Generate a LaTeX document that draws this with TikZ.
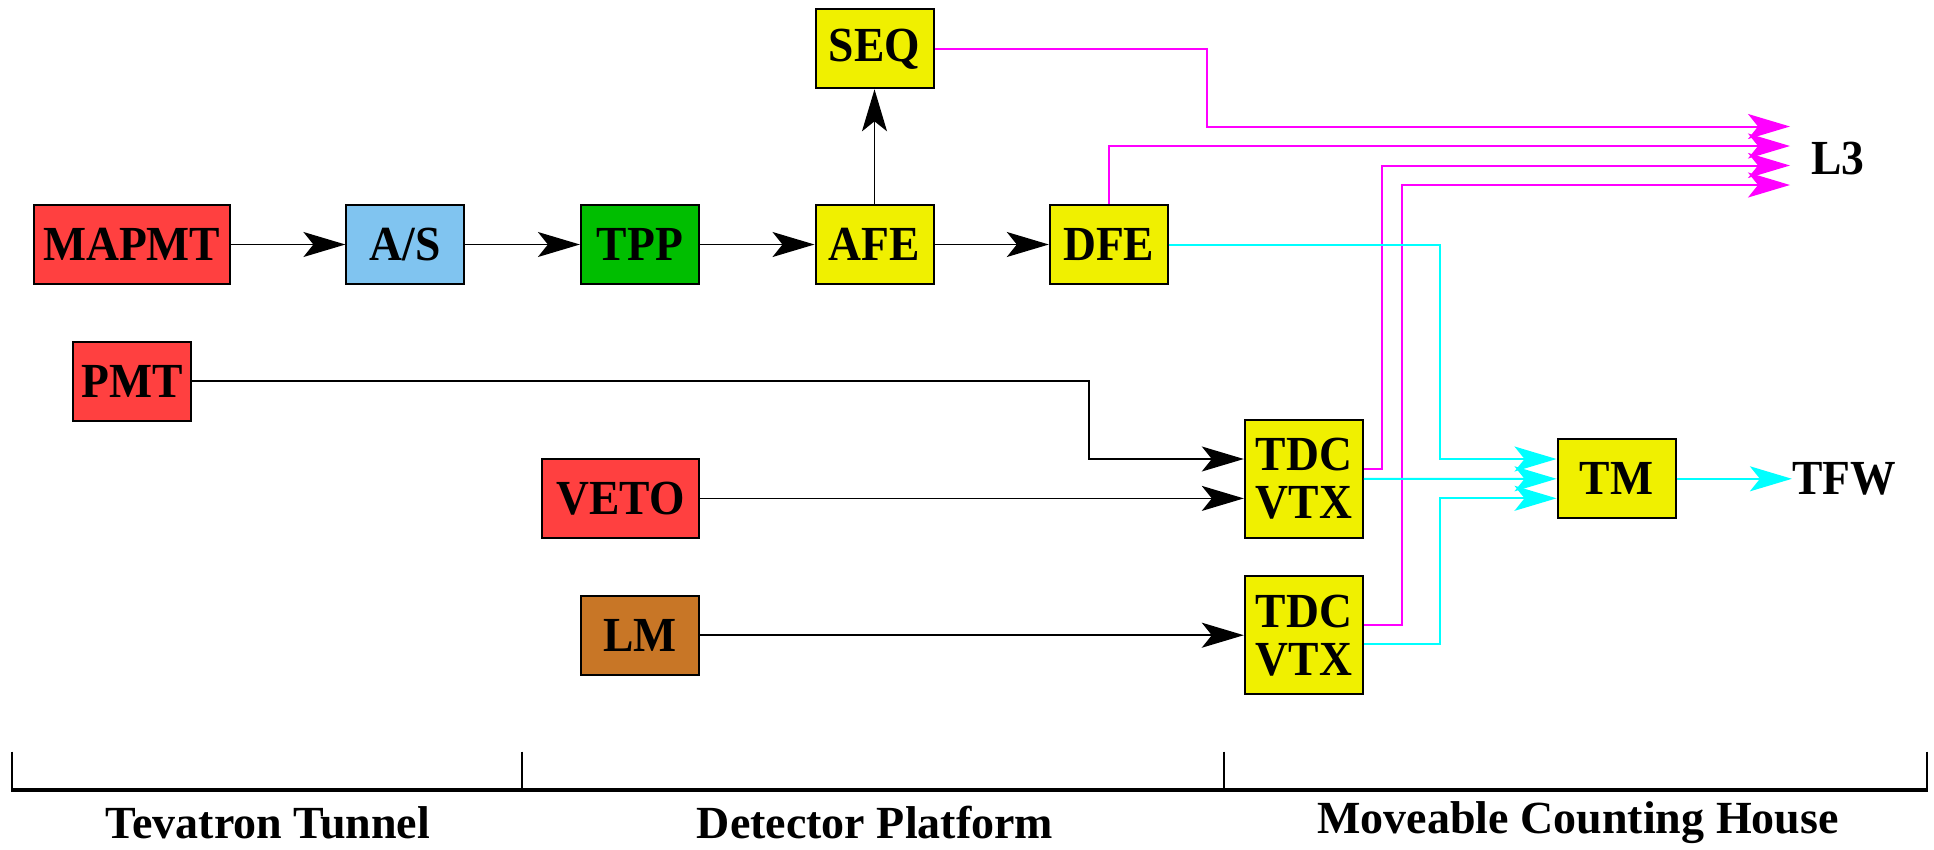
\documentclass[tikz,border=0pt]{standalone}
\usepackage{fontspec}
\setmainfont{Liberation Serif}
\newfontfamily\tallserif[FakeStretch=0.93]{Liberation Serif}
\usetikzlibrary{arrows.meta}
\definecolor{boxred}{RGB}{255,64,64}
\definecolor{boxblue}{RGB}{128,196,240}
\definecolor{boxgreen}{RGB}{0,190,0}
\definecolor{boxyellow}{RGB}{240,240,0}
\definecolor{boxbrown}{RGB}{200,118,38}
\definecolor{sigmag}{RGB}{255,0,255}
\definecolor{sigcyan}{RGB}{0,255,255}
\tikzset{
  blk/.style={draw=black, line width=2pt, minimum width=118pt, minimum height=79pt, inner sep=0pt,
     font=\tallserif\fontsize{49}{48}\selectfont\bfseries, align=center},
  lbl/.style={inner sep=0pt, font=\tallserif\fontsize{49}{48}\selectfont\bfseries},
  zonelbl/.style={inner sep=0pt, font=\fontsize{46}{48}\selectfont\bfseries},
  tip/.style={-{Stealth[length=42pt,width=25pt,inset=10pt]}},
  blackcon/.style={tip, draw=black, line width=1.6pt},
  magcon/.style={tip, draw=sigmag, line width=2pt},
  cyancon/.style={tip, draw=sigcyan, line width=2pt},
}
\begin{document}
\begin{tikzpicture}[x=1pt,y=-1pt]
\useasboundingbox (0,0) rectangle (1934,849);
% boxes
\node[blk, fill=boxred, minimum width=196pt] (mapmt) at (131.7,244.5) {MAPMT};
\node[blk, fill=boxblue] (as) at (405.4,244.5) {A/S};
\node[blk, fill=boxgreen] (tpp) at (639.9,244.5) {TPP};
\node[blk, fill=boxyellow] (afe) at (874.5,244.5) {AFE};
\node[blk, fill=boxyellow] (seq) at (874.5,48.8) {SEQ};
\node[blk, fill=boxyellow] (dfe) at (1108.8,244.5) {DFE};
\node[blk, fill=boxred] (pmt) at (132,381.2) {PMT};
\node[blk, fill=boxred, minimum width=157pt] (veto) at (620.4,498.4) {VETO};
\node[blk, fill=boxbrown] (lm) at (640,635.2) {LM};
\node[blk, fill=boxyellow, minimum height=118pt] (tdca) at (1303.8,478.9) {TDC\\VTX};
\node[blk, fill=boxyellow, minimum height=118pt] (tdcb) at (1303.8,635.3) {TDC\\VTX};
\node[blk, fill=boxyellow] (tm) at (1616.5,478.8) {TM};
\node[lbl] (l3) at (1838,159) {L3};
\node[lbl] (tfw) at (1844,478.8) {TFW};
% L3 arrow ends
\coordinate (l3a) at (1790,126.5);
\coordinate (l3b) at (1790,146);
\coordinate (l3c) at (1790,165.5);
\coordinate (l3d) at (1790,185);
% black connectors
\draw[blackcon] (mapmt.east) -- (as.west);
\draw[blackcon] (as.east) -- (tpp.west);
\draw[blackcon] (tpp.east) -- (afe.west);
\draw[blackcon] (afe.east) -- (dfe.west);
\draw[blackcon] (afe.north) -- (seq.south);
\draw[blackcon] (pmt.east) -- (1089,381.2) -- (1089,459) -- (tdca.west |- 0,459);
\draw[blackcon] (veto.east) -- (tdca.west |- veto.east);
\draw[blackcon] (lm.east) -- (tdcb.west |- lm.east);
% magenta connectors
\draw[magcon] (seq.east) -- (1206.6,48.8) -- (1206.6,126.5) -- (l3a);
\draw[magcon] (dfe.north) -- (1108.8,146) -- (l3b);
\draw[magcon] (tdca.east |- 0,469) -- (1382,469) -- (1382,165.5) -- (l3c);
\draw[magcon] (tdcb.east |- 0,625) -- (1401.6,625) -- (1401.6,185) -- (l3d);
% cyan connectors
\draw[cyancon] (dfe.east) -- (1440,244.5) -- (1440,459) -- (tm.west |- 0,459);
\draw[cyancon] (tdca.east) -- (tm.west);
\draw[cyancon] (tdcb.east |- 0,644.3) -- (1440,644.3) -- (1440,498.3) -- (tm.west |- 0,498.3);
\draw[cyancon] (tm.east) -- (tfw.west);
% location scale
\draw[line width=3.5pt] (12.3,790) -- (1927,790);
\draw[line width=2pt] (12.3,751.7) -- (12.3,791.7);
\draw[line width=2pt] (521.6,751.7) -- (521.6,790);
\draw[line width=2pt] (1224.4,751.7) -- (1224.4,790);
\draw[line width=2pt] (1927,751.7) -- (1927,791.7);
\node[zonelbl] (zone1) at (268,823) {Tevatron Tunnel};
\node[zonelbl] (zone2) at (875,823) {Detector Platform};
\node[zonelbl] (zone3) at (1578,823) {Moveable Counting House};
\end{tikzpicture}
\end{document}
